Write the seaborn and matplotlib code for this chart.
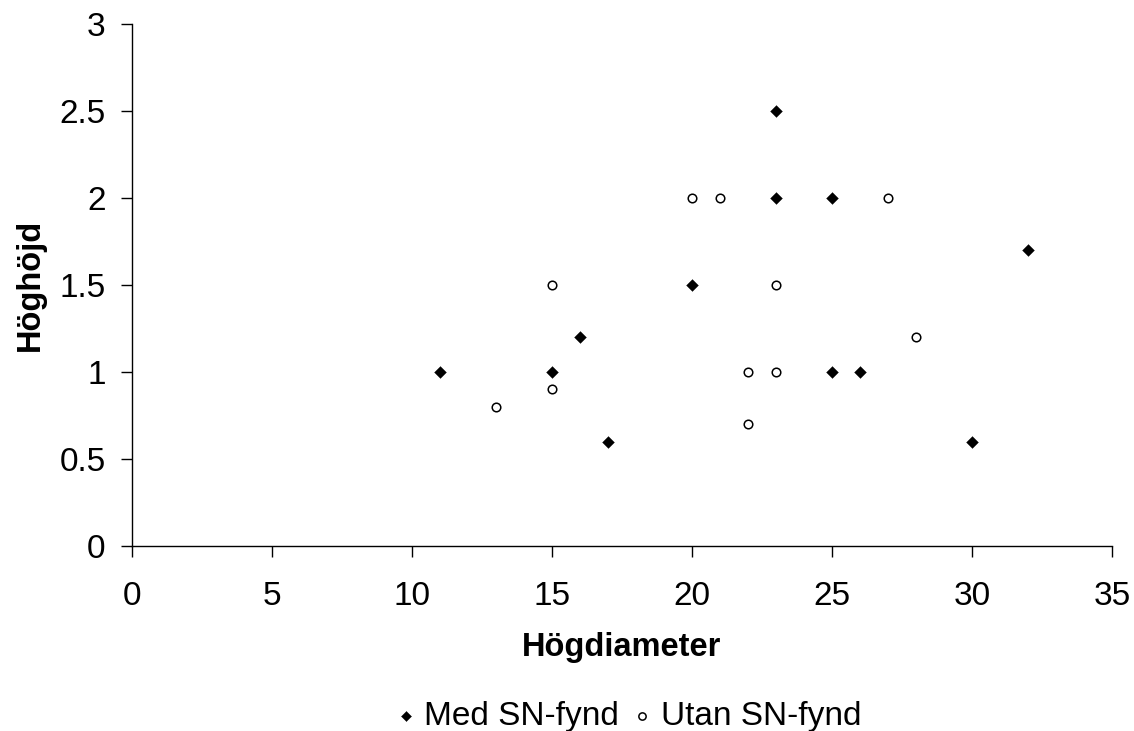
import matplotlib
matplotlib.use("Agg")
import matplotlib.pyplot as plt
import seaborn as sns
import pandas as pd

# Data
med_x = [11, 15, 16, 17, 20, 23, 23, 25, 25, 26, 30, 32]
med_y = [1.0, 1.0, 1.2, 0.6, 1.5, 2.5, 2.0, 2.0, 1.0, 1.0, 0.6, 1.7]
utan_x = [13, 15, 15, 20, 21, 22, 22, 23, 23, 27, 28]
utan_y = [0.8, 1.5, 0.9, 2.0, 2.0, 1.0, 0.7, 1.5, 1.0, 2.0, 1.2]
series_names = ["Med SN-fynd", "Utan SN-fynd"]
x_ticks = [0, 5, 10, 15, 20, 25, 30, 35]
y_ticks = [0, 0.5, 1, 1.5, 2, 2.5, 3]
y_tick_labels = ["0", "0.5", "1", "1.5", "2", "2.5", "3"]

df_med = pd.DataFrame({"Högdiameter": med_x, "Höghöjd": med_y})
df_utan = pd.DataFrame({"Högdiameter": utan_x, "Höghöjd": utan_y})

sns.set_style("ticks")
plt.rcParams["font.family"] = ["Liberation Sans", "DejaVu Sans"]
plt.rcParams["text.color"] = "black"

fig = plt.figure(figsize=(11.34, 7.31), dpi=100)
ax = fig.add_axes([132 / 1134, 1 - 546 / 731, (1112 - 132) / 1134, (546 - 24) / 731])

sns.scatterplot(data=df_med, x="Högdiameter", y="Höghöjd", ax=ax, marker="D",
                s=36, color="black", edgecolor="black", linewidth=0.3,
                label=series_names[0], zorder=3, clip_on=False)
sns.scatterplot(data=df_utan, x="Högdiameter", y="Höghöjd", ax=ax, marker="o",
                s=38, facecolor="white", edgecolor="black", linewidth=1.1,
                label=series_names[1], zorder=3, clip_on=False)

ax.set_xlim(0, 35)
ax.set_ylim(0, 3)
ax.set_xticks(x_ticks)
ax.set_yticks(y_ticks)
ax.set_yticklabels(y_tick_labels)

for side in ["top", "right"]:
    ax.spines[side].set_visible(False)
for side in ["left", "bottom"]:
    ax.spines[side].set_color("black")
    ax.spines[side].set_linewidth(1.0)

ax.tick_params(axis="both", direction="out", length=8, width=1.0, color="black",
               labelsize=24, labelcolor="black")
ax.tick_params(axis="x", pad=17)
ax.tick_params(axis="y", pad=11)

ax.set_xlabel("Högdiameter", fontsize=23.5, fontweight="bold", color="black")
ax.set_ylabel("Höghöjd", fontsize=23.5, fontweight="bold", color="black")
ax.xaxis.set_label_coords(0.5, -0.165)
ax.yaxis.set_label_coords(-0.088, 0.5)

leg = ax.legend(loc="center", bbox_to_anchor=(625 / 1134, 1 - 716 / 731),
                bbox_transform=fig.transFigure, ncol=2, frameon=False,
                fontsize=24, handletextpad=0.05, columnspacing=0.2,
                handlelength=1.0, markerscale=0.85, borderpad=0,
                labelcolor="black")

fig.savefig("out.png", dpi=100, facecolor="white")
